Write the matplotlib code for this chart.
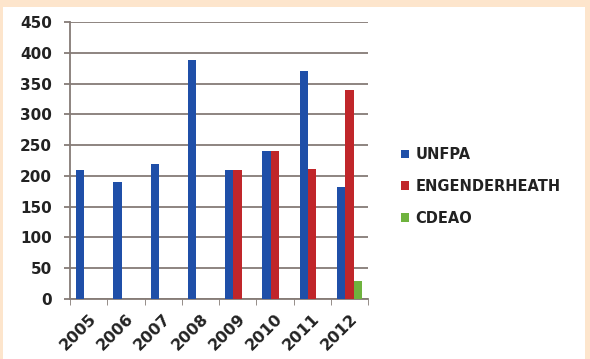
import matplotlib.pyplot as plt
from matplotlib.patches import Rectangle
import numpy as np

# Data
years = ['2005', '2006', '2007', '2008', '2009', '2010', '2011', '2012']
unfpa = [210, 190, 220, 388, 210, 240, 370, 182]
engenderheath = [0, 0, 0, 0, 210, 240, 212, 340]
cdeao = [0, 0, 0, 0, 0, 0, 0, 30]

series = [('UNFPA', unfpa, '#1f4fa8'),
          ('ENGENDERHEATH', engenderheath, '#c0262a'),
          ('CDEAO', cdeao, '#6fb33e')]

plt.rcParams['font.family'] = ['DejaVu Sans']

fig = plt.figure(figsize=(5.9, 3.59), dpi=100, facecolor='#fde5cc')
# white panel inside the peach frame
fig.patches.append(Rectangle((3 / 590, 0), 582 / 590, 352 / 359,
                             transform=fig.transFigure, facecolor='white',
                             edgecolor='none', zorder=-10))

ax = fig.add_axes([70 / 590, 1 - 299 / 359, 298 / 590, 277 / 359])
ax.set_facecolor('none')

x = np.arange(len(years))
w = 0.225
for i, (name, vals, col) in enumerate(series):
    ax.bar(x + (i - 1) * w, vals, width=w, color=col, label=name, zorder=3)

ax.set_xlim(-0.5, len(years) - 0.5)
ax.set_ylim(0, 450)
ax.set_yticks(range(0, 451, 50))
ax.yaxis.grid(True, color='#857b76', linewidth=1.3, zorder=1)
ax.set_axisbelow(True)

for s in ['top', 'right']:
    ax.spines[s].set_visible(False)
ax.spines['left'].set_color('#857b76')
ax.spines['left'].set_linewidth(1.3)
ax.spines['bottom'].set_color('#857b76')
ax.spines['bottom'].set_linewidth(1.3)

ax.set_xticks(x)
ax.set_xticklabels(years, rotation=45, ha='right', rotation_mode='anchor',
                   fontsize=11.5, fontweight='bold', color='#222222')
ax.tick_params(axis='x', length=0, pad=9)
ax.set_xticks(np.arange(-0.5, len(years)), minor=True)
ax.tick_params(axis='x', which='minor', length=4.5, color='#857b76')
ax.tick_params(axis='y', length=4, width=1.3, color='#857b76', pad=9,
               labelsize=11, labelcolor='#222222')
for lab in ax.get_yticklabels():
    lab.set_fontweight('bold')

leg = fig.legend(loc='upper left', bbox_to_anchor=(388 / 590, 1 - 134 / 359),
                 frameon=False, handlelength=0.55, handleheight=0.55,
                 handletextpad=0.45, labelspacing=1.15,
                 prop={'weight': 'bold', 'size': 10.5})
for t in leg.get_texts():
    t.set_color('#222222')

fig.savefig('out.png', dpi=100, facecolor=fig.get_facecolor())
